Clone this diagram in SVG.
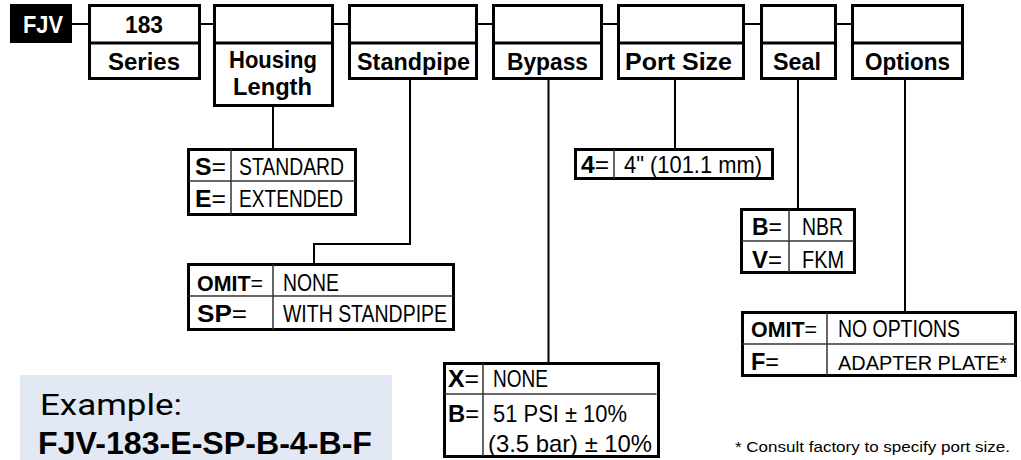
<svg xmlns="http://www.w3.org/2000/svg" width="1021" height="460" viewBox="0 0 1021 460">
<style>
.b{font-family:"Liberation Sans",Arial,sans-serif;font-weight:bold;font-size:24px;fill:#000}
.r{font-family:"Liberation Sans",Arial,sans-serif;font-size:24px;fill:#000}
.n{font-weight:normal}
.box{fill:#fff;stroke:#000;stroke-width:3}
.div{stroke:#000;stroke-width:3}
.in{stroke:#333;stroke-width:1.5}
.c{fill:none;stroke:#000;stroke-width:2}
</style>
<rect width="1021" height="460" fill="#fff"/>
<g id="connectors">
<path class="c" d="M72 24H88M201 24H213M334 24H348M478 24H492M603 24H617M745 24H760M837 24H851"/>
<path class="c" d="M273 107V148M410 80V244H314V263M548.5 80V362M675 80V148M798 80V208M905 80V311"/>
</g>
<g id="fjv">
<rect x="10" y="4" width="62" height="39" fill="#000"/>
<text class="b" x="23" y="33" textLength="40" lengthAdjust="spacingAndGlyphs" style="fill:#fff">FJV</text>
</g>
<g id="series">
<rect class="box" x="89.5" y="5.5" width="110" height="73"/>
<line class="div" x1="89.5" y1="43" x2="199.5" y2="43"/>
<text class="b" x="125" y="33" textLength="38" lengthAdjust="spacingAndGlyphs">183</text>
<text class="b" x="108" y="70" textLength="72" lengthAdjust="spacingAndGlyphs">Series</text>
</g>
<g id="housing">
<rect class="box" x="214.5" y="5.5" width="118" height="100"/>
<line class="div" x1="214.5" y1="43" x2="332.5" y2="43"/>
<text class="b" x="229" y="68" textLength="88" lengthAdjust="spacingAndGlyphs">Housing</text>
<text class="b" x="233" y="95" textLength="79" lengthAdjust="spacingAndGlyphs">Length</text>
</g>
<g id="standpipe">
<rect class="box" x="349.5" y="5.5" width="127" height="73"/>
<line class="div" x1="349.5" y1="43" x2="476.5" y2="43"/>
<text class="b" x="357" y="70" textLength="113" lengthAdjust="spacingAndGlyphs">Standpipe</text>
</g>
<g id="bypass">
<rect class="box" x="493.5" y="5.5" width="108" height="73"/>
<line class="div" x1="493.5" y1="43" x2="601.5" y2="43"/>
<text class="b" x="507" y="70" textLength="81" lengthAdjust="spacingAndGlyphs">Bypass</text>
</g>
<g id="portsize">
<rect class="box" x="618.5" y="5.5" width="125" height="73"/>
<line class="div" x1="618.5" y1="43" x2="743.5" y2="43"/>
<text class="b" x="625" y="70" textLength="107" lengthAdjust="spacingAndGlyphs">Port Size</text>
</g>
<g id="seal">
<rect class="box" x="761.5" y="5.5" width="74" height="73"/>
<line class="div" x1="761.5" y1="43" x2="835.5" y2="43"/>
<text class="b" x="773" y="70" textLength="48" lengthAdjust="spacingAndGlyphs">Seal</text>
</g>
<g id="options">
<rect class="box" x="852.5" y="5.5" width="110" height="73"/>
<line class="div" x1="852.5" y1="43" x2="962.5" y2="43"/>
<text class="b" x="865" y="70" textLength="85" lengthAdjust="spacingAndGlyphs">Options</text>
</g>
<g id="table-housing">
<rect class="box" x="188.5" y="149.5" width="167" height="65"/>
<line class="in" x1="188.5" y1="181" x2="355.5" y2="181"/>
<line class="in" x1="231" y1="149.5" x2="231" y2="214.5"/>
<text class="b" x="195" y="175" textLength="31" lengthAdjust="spacingAndGlyphs">S<tspan class="n">=</tspan></text>
<text class="r" x="239" y="175" textLength="105" lengthAdjust="spacingAndGlyphs">STANDARD</text>
<text class="b" x="195" y="207" textLength="31" lengthAdjust="spacingAndGlyphs">E<tspan class="n">=</tspan></text>
<text class="r" x="239" y="207" textLength="104" lengthAdjust="spacingAndGlyphs">EXTENDED</text>
</g>
<g id="table-standpipe">
<rect class="box" x="188.5" y="264.5" width="265" height="65"/>
<line class="in" x1="188.5" y1="296" x2="453.5" y2="296"/>
<line class="in" x1="273" y1="264.5" x2="273" y2="329.5"/>
<text class="b" x="197" y="291" textLength="66" lengthAdjust="spacingAndGlyphs" style="font-size:22px">OMIT<tspan class="n">=</tspan></text>
<text class="r" x="283" y="291" textLength="56" lengthAdjust="spacingAndGlyphs">NONE</text>
<text class="b" x="197" y="322" textLength="50" lengthAdjust="spacingAndGlyphs">SP<tspan class="n">=</tspan></text>
<text class="r" x="283" y="322" textLength="164" lengthAdjust="spacingAndGlyphs">WITH STANDPIPE</text>
</g>
<g id="table-bypass">
<rect class="box" x="444.5" y="363.5" width="214" height="93"/>
<line class="in" x1="444.5" y1="394" x2="656.5" y2="394"/>
<line class="in" x1="483" y1="363.5" x2="483" y2="456.5"/>
<text class="b" x="448" y="387" textLength="31" lengthAdjust="spacingAndGlyphs">X<tspan class="n">=</tspan></text>
<text class="r" x="493" y="387" textLength="55" lengthAdjust="spacingAndGlyphs">NONE</text>
<text class="b" x="448" y="422" textLength="31" lengthAdjust="spacingAndGlyphs">B<tspan class="n">=</tspan></text>
<text class="r" x="493" y="422" textLength="134" lengthAdjust="spacingAndGlyphs">51 PSI ± 10%</text>
<text class="r" x="488" y="452" textLength="164" lengthAdjust="spacingAndGlyphs">(3.5 bar) ± 10%</text>
</g>
<g id="table-port">
<rect class="box" x="575.5" y="149.5" width="197" height="29"/>
<line class="in" x1="614" y1="149.5" x2="614" y2="178.5"/>
<text class="b" x="581" y="173" textLength="28" lengthAdjust="spacingAndGlyphs">4<tspan class="n">=</tspan></text>
<text class="r" x="624" y="173" textLength="138" lengthAdjust="spacingAndGlyphs">4" (101.1 mm)</text>
</g>
<g id="table-seal">
<rect class="box" x="741.5" y="209.5" width="113" height="63"/>
<line class="in" x1="741.5" y1="241" x2="854.5" y2="241"/>
<line class="in" x1="789" y1="209.5" x2="789" y2="272.5"/>
<text class="b" x="752" y="235" textLength="30" lengthAdjust="spacingAndGlyphs">B<tspan class="n">=</tspan></text>
<text class="r" x="802" y="235" textLength="41" lengthAdjust="spacingAndGlyphs">NBR</text>
<text class="b" x="752" y="268" textLength="30" lengthAdjust="spacingAndGlyphs">V<tspan class="n">=</tspan></text>
<text class="r" x="802" y="268" textLength="42" lengthAdjust="spacingAndGlyphs">FKM</text>
</g>
<g id="table-options">
<rect class="box" x="742.5" y="312.5" width="273" height="63"/>
<line class="in" x1="742.5" y1="344" x2="1015.5" y2="344"/>
<line class="in" x1="827" y1="312.5" x2="827" y2="375.5"/>
<text class="b" x="751" y="337" textLength="66" lengthAdjust="spacingAndGlyphs" style="font-size:22px">OMIT<tspan class="n">=</tspan></text>
<text class="r" x="838" y="337" textLength="122" lengthAdjust="spacingAndGlyphs">NO OPTIONS</text>
<text class="b" x="751" y="370" textLength="28" lengthAdjust="spacingAndGlyphs">F<tspan class="n">=</tspan></text>
<text class="r" x="838" y="370" textLength="169" lengthAdjust="spacingAndGlyphs" style="font-size:21px">ADAPTER PLATE*</text>
</g>
<g id="example">
<rect x="20" y="375" width="372" height="85" fill="#e2e8f4"/>
<text x="40" y="415" font-family="Roboto,'Liberation Sans',sans-serif" font-size="30" textLength="142" lengthAdjust="spacingAndGlyphs" fill="#000">Example:</text>
<text x="38" y="454" font-family="'Liberation Sans',Arial,sans-serif" font-weight="bold" font-size="32" textLength="334" lengthAdjust="spacingAndGlyphs" fill="#000">FJV-183-E-SP-B-4-B-F</text>
</g>
<g id="footnote">
<text x="735" y="452" font-family="'Liberation Sans',Arial,sans-serif" font-size="14" textLength="275" lengthAdjust="spacingAndGlyphs" fill="#000">* Consult factory to specify port size.</text>
</g>
</svg>
